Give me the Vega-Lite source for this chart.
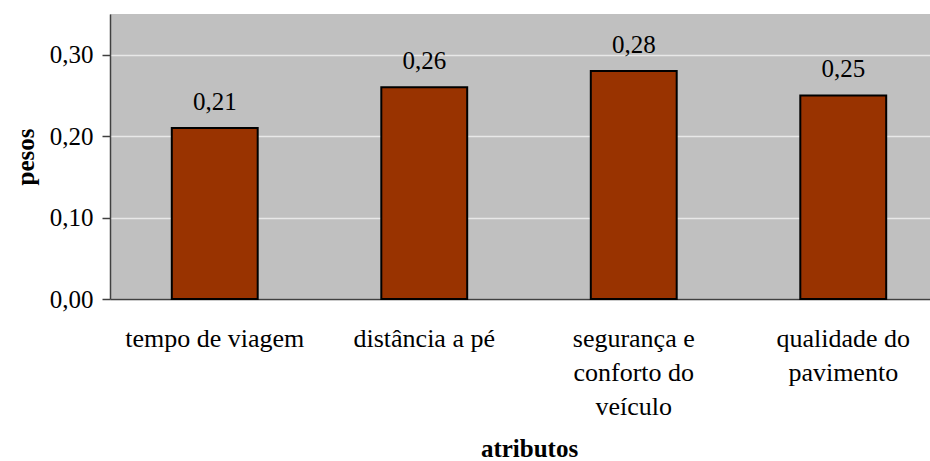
{
  "$schema": "https://vega.github.io/schema/vega-lite/v6.json",
  "autosize": "none",
  "width": 820,
  "height": 285,
  "padding": {"left": 110, "top": 14, "right": 0, "bottom": 162},
  "background": "white",
  "config": {
    "view": {"fill": "#C0C0C0", "stroke": null},
    "font": "Liberation Serif",
    "text": {"font": "Liberation Serif"},
    "axis": {"labelFont": "Liberation Serif", "titleFont": "Liberation Serif"},
    "locale": {"number": {"decimal": ",", "thousands": ".", "grouping": [3], "currency": ["", ""]}}
  },
  "data": {
    "values": [
      {"atributo": "tempo de viagem", "peso": 0.21},
      {"atributo": "distância a pé", "peso": 0.26},
      {"atributo": "segurança e conforto do veículo", "peso": 0.28},
      {"atributo": "qualidade do pavimento", "peso": 0.25}
    ]
  },
  "encoding": {
    "x": {
      "field": "atributo",
      "type": "nominal",
      "sort": null,
      "scale": {"range": [0, 838], "paddingInner": 0.59, "paddingOuter": 0.295},
      "axis": {
        "title": "atributos",
        "titleFontSize": 25,
        "titleFontWeight": "bold",
        "titleColor": "black",
        "titleX": 419,
        "titleY": 157,
        "titleBaseline": "alphabetic",
        "labelAngle": 0,
        "labelFontSize": 26,
        "labelColor": "black",
        "labelBaseline": "alphabetic",
        "labelPadding": 47,
        "labelLineHeight": 34,
        "labelLimit": 0,
        "ticks": false,
        "domainColor": "#404040",
        "domainWidth": 1.5,
        "labelExpr": "datum.value == 'segurança e conforto do veículo' ? ['segurança e', 'conforto do', 'veículo'] : datum.value == 'qualidade do pavimento' ? ['qualidade do', 'pavimento'] : datum.value"
      }
    },
    "y": {
      "field": "peso",
      "type": "quantitative",
      "scale": {"domain": [0, 0.35], "nice": false},
      "axis": {
        "title": "pesos",
        "titleFontSize": 25,
        "titleFontWeight": "bold",
        "titleColor": "black",
        "titleAngle": -90,
        "titleX": -85,
        "titleY": 142.5,
        "titleBaseline": "middle",
        "values": [0, 0.1, 0.2, 0.3],
        "format": ".2f",
        "labelFontSize": 25,
        "labelColor": "black",
        "labelPadding": 9,
        "tickSize": 8,
        "tickColor": "#404040",
        "tickWidth": 1.5,
        "domainColor": "#404040",
        "domainWidth": 1.5,
        "grid": true,
        "gridColor": "#E8E8E8",
        "gridWidth": 1.5
      }
    }
  },
  "layer": [
    {
      "mark": {"type": "bar", "fill": "#993300", "stroke": "black", "strokeWidth": 2}
    },
    {
      "mark": {"type": "text", "dy": -18, "baseline": "alphabetic", "fontSize": 25, "font": "Liberation Serif", "color": "black"},
      "encoding": {
        "text": {"field": "peso", "type": "quantitative", "format": ".2f"}
      }
    }
  ]
}
